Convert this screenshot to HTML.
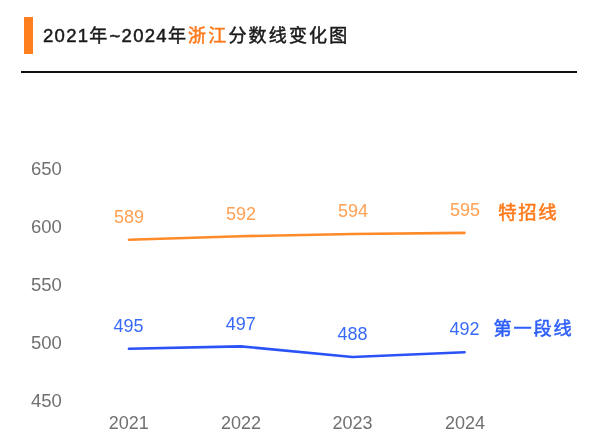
<!DOCTYPE html>
<html lang="zh-CN">
<head>
<meta charset="utf-8">
<title>2021年~2024年浙江分数线变化图</title>
<style>
html,body{margin:0;padding:0;background:#fff;}
body{width:600px;height:446px;position:relative;overflow:hidden;font-family:"Liberation Sans","Noto Sans CJK SC",sans-serif;}
.bar{position:absolute;left:24px;top:17px;width:9px;height:37px;background:#ff7f1f;}
.title{position:absolute;left:43px;top:15.8px;height:40px;line-height:40px;font-size:18px;letter-spacing:2.17px;color:#1a1a1a;white-space:nowrap;-webkit-text-stroke:0.5px currentColor;}
.title b{font-weight:normal;font-size:18.5px;letter-spacing:1.29px;}
.title em{font-style:normal;color:#ff7a1c;}
.rule{position:absolute;left:21px;top:71px;width:556px;height:2px;background:#111;}
svg{position:absolute;left:0;top:0;}
svg text{font-family:"Liberation Sans","Noto Sans CJK SC",sans-serif;}
</style>
</head>
<body>
<div class="bar"></div>
<div class="title"><b>2021</b>年<b>~2024</b>年<em>浙江</em>分数线变化图</div>
<div class="rule"></div>
<svg width="600" height="446" viewBox="0 0 600 446">
  <g font-size="18.5" fill="#707070">
    <text x="31" y="175.4">650</text>
    <text x="31" y="233.3">600</text>
    <text x="31" y="291.2">550</text>
    <text x="31" y="349.1">500</text>
    <text x="31" y="407">450</text>
  </g>
  <g font-size="18" fill="#707070" text-anchor="middle">
    <text x="128.8" y="428.8">2021</text>
    <text x="240.9" y="428.8">2022</text>
    <text x="352.6" y="428.8">2023</text>
    <text x="464.9" y="428.8">2024</text>
  </g>
  <polyline points="129,239.75 240.7,236.25 352.4,234 464.5,232.8" fill="none" stroke="#ff8a2a" stroke-width="2.7" stroke-linecap="round" stroke-linejoin="round"/>
  <polyline points="129,348.75 240.7,346.3 352.4,357 464.5,352.25" fill="none" stroke="#2a52f6" stroke-width="2.7" stroke-linecap="round" stroke-linejoin="round"/>
  <g font-size="18" fill="#ffa052" text-anchor="middle">
    <text x="129" y="223">589</text>
    <text x="241" y="220">592</text>
    <text x="353" y="217.2">594</text>
    <text x="465" y="216">595</text>
  </g>
  <g font-size="18" fill="#386af8" text-anchor="middle">
    <text x="128.5" y="332">495</text>
    <text x="240.7" y="329.6">497</text>
    <text x="352.5" y="340">488</text>
    <text x="464.5" y="335">492</text>
  </g>
  <text x="498.3" y="219.4" font-size="18.4" fill="#ff7a1c" stroke="#ff7a1c" stroke-width="0.55" letter-spacing="1.6">特招线</text>
  <text x="493.6" y="335.4" font-size="18.2" fill="#2f5ffa" stroke="#2f5ffa" stroke-width="0.55" letter-spacing="1.8">第一段线</text>
</svg>
</body>
</html>
